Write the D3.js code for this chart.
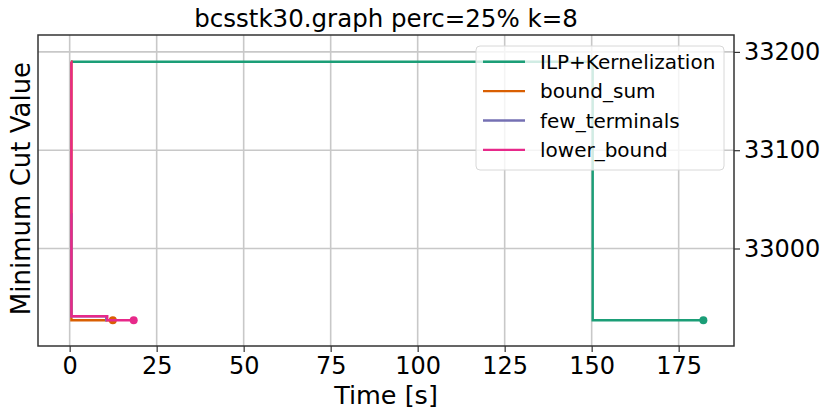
<!DOCTYPE html>
<html>
<head>
<meta charset="utf-8">
<script src="https://cdn.jsdelivr.net/npm/d3@7"></script>
<style>
  body { margin: 0; background: #fff; }
  svg { display: block; font-family: "DejaVu Sans", sans-serif; }
</style>
</head>
<body>
<svg width="831" height="418"></svg>
<script>
const seriesNames = ["ILP+Kernelization", "bound_sum", "few_terminals", "lower_bound"];
const seriesColors = ["#1b9e77", "#d95f02", "#7570b3", "#e7298a"];

// step-after series: time [s] and minimum cut value
const ilpTimes = [0.3, 150.3, 182.1];
const ilpValues = [33190, 32927, 32927];
const boundSumTimes = [0.4, 0.5, 12.4];
const boundSumValues = [33190, 32927, 32927];
const fewTerminalsTimes = [0.4, 0.5, 10.5, 10.7];
const fewTerminalsValues = [33035, 32931, 32927, 32927];
const lowerBoundTimes = [0.4, 0.5, 10.8, 18.4];
const lowerBoundValues = [33190, 32931, 32927, 32927];
const showEndMarker = [true, true, false, true];

const xTicks = [0, 25, 50, 75, 100, 125, 150, 175];
const yTicks = [33000, 33100, 33200];

main();

function main() {
  const canvas = d3.select("svg");

  const left = 38;
  const right = 734;
  const top = 35;
  const bottom = 346;

  const xScale = d3.scaleLinear().domain([-9.1, 190.9]).range([left, right]);
  const yScale = d3.scaleLinear().domain([32900.8, 33217.2]).range([bottom, top]);

  const series = [
    { times: ilpTimes, values: ilpValues },
    { times: boundSumTimes, values: boundSumValues },
    { times: fewTerminalsTimes, values: fewTerminalsValues },
    { times: lowerBoundTimes, values: lowerBoundValues },
  ];

  // grid
  const grid = canvas.append("g");
  grid
    .selectAll("line.vx")
    .data(xTicks)
    .join("line")
    .attr("x1", (d) => xScale(d))
    .attr("x2", (d) => xScale(d))
    .attr("y1", top)
    .attr("y2", bottom)
    .attr("stroke", "#c8c8c8")
    .attr("stroke-width", 1.6);
  grid
    .selectAll("line.hy")
    .data(yTicks)
    .join("line")
    .attr("x1", left)
    .attr("x2", right)
    .attr("y1", (d) => yScale(d))
    .attr("y2", (d) => yScale(d))
    .attr("stroke", "#c8c8c8")
    .attr("stroke-width", 1.6);

  // lines
  const line = d3
    .line()
    .x((d) => xScale(d[0]))
    .y((d) => yScale(d[1]))
    .curve(d3.curveStepAfter);

  series.forEach((s, i) => {
    const pts = s.times.map((t, j) => [t, s.values[j]]);
    canvas
      .append("path")
      .attr("d", line(pts))
      .attr("fill", "none")
      .attr("stroke", seriesColors[i])
      .attr("stroke-width", 2.4);
    if (showEndMarker[i]) {
      const last = pts[pts.length - 1];
      canvas
        .append("circle")
        .attr("cx", xScale(last[0]))
        .attr("cy", yScale(last[1]))
        .attr("r", 4)
        .attr("fill", seriesColors[i]);
    }
  });

  // frame
  canvas
    .append("rect")
    .attr("x", left)
    .attr("y", top)
    .attr("width", right - left)
    .attr("height", bottom - top)
    .attr("fill", "none")
    .attr("stroke", "#333")
    .attr("stroke-width", 1.5);

  // axes
  const xAxis = d3.axisBottom(xScale).tickValues(xTicks).tickFormat(d3.format("d")).tickSize(6).tickPadding(5);
  const gx = canvas
    .append("g")
    .attr("transform", `translate(0, ${bottom})`)
    .call(xAxis);
  gx.select(".domain").remove();
  gx.selectAll("line").attr("stroke", "#333").attr("stroke-width", 1.2);
  gx.selectAll("text")
    .attr("font-size", 24)
    .attr("fill", "#000")
    .attr("font-family", "DejaVu Sans");

  const yAxis = d3.axisRight(yScale).tickValues(yTicks).tickFormat(d3.format("d")).tickSize(6).tickPadding(4);
  const gy = canvas
    .append("g")
    .attr("transform", `translate(${right}, 0)`)
    .call(yAxis);
  gy.select(".domain").remove();
  gy.selectAll("line").attr("stroke", "#333").attr("stroke-width", 1.2);
  gy.selectAll("text")
    .attr("font-size", 24)
    .attr("fill", "#000")
    .attr("font-family", "DejaVu Sans");

  // labels
  canvas
    .append("text")
    .text("bcsstk30.graph perc=25% k=8")
    .attr("x", (left + right) / 2)
    .attr("y", 27)
    .attr("text-anchor", "middle")
    .attr("font-size", 24.5);

  canvas
    .append("text")
    .text("Time [s]")
    .attr("x", (left + right) / 2)
    .attr("y", 404)
    .attr("text-anchor", "middle")
    .attr("font-size", 25.5);

  canvas
    .append("text")
    .text("Minimum Cut Value")
    .attr("x", 0)
    .attr("y", 0)
    .attr("text-anchor", "middle")
    .attr("font-size", 26)
    .attr("transform", `translate(30, ${(top + bottom) / 2 - 2}) rotate(-90)`);

  // legend
  const legend = canvas.append("g");
  legend
    .append("rect")
    .attr("x", 476)
    .attr("y", 46)
    .attr("width", 248)
    .attr("height", 124)
    .attr("rx", 4)
    .attr("fill", "rgba(255,255,255,0.8)")
    .attr("stroke", "#d8d8d8")
    .attr("stroke-width", 1);

  seriesNames.forEach((name, i) => {
    const y = 61.7 + i * 29.4;
    legend
      .append("line")
      .attr("x1", 483)
      .attr("x2", 525)
      .attr("y1", y)
      .attr("y2", y)
      .attr("stroke", seriesColors[i])
      .attr("stroke-width", 2.4);
    legend
      .append("text")
      .text(name)
      .attr("x", 540)
      .attr("y", y + 7)
      .attr("font-size", 20);
  });
}
</script>
</body>
</html>
